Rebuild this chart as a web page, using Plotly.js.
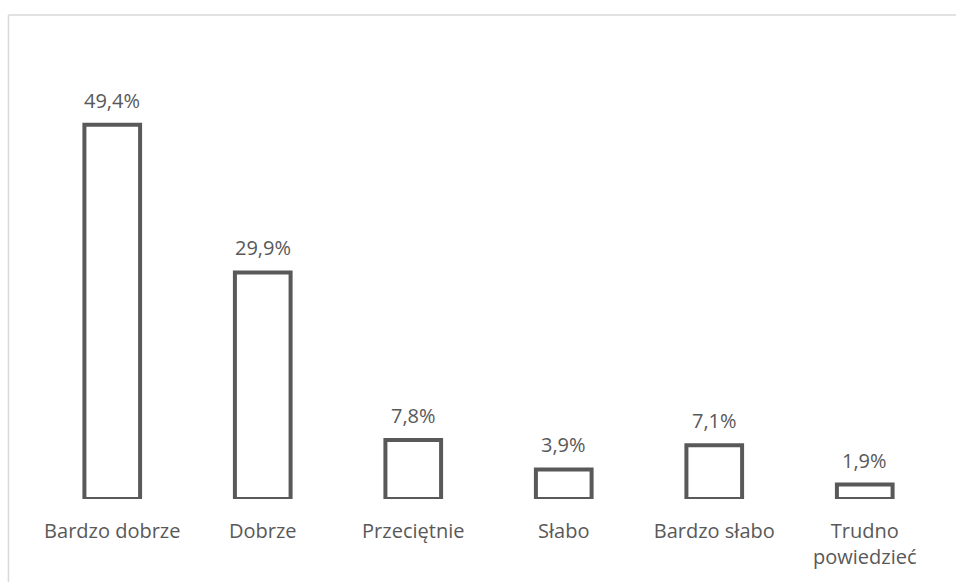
<!DOCTYPE html>
<html><head><meta charset="utf-8">
<script src="https://cdn.plot.ly/plotly-3.0.1.min.js"></script>
<style>html,body{margin:0;padding:0;background:#fff}#c{width:956px;height:582px}</style>
</head><body><div id="c"></div>
<script>
const categories = ["Bardzo dobrze", "Dobrze", "Przeciętnie", "Słabo", "Bardzo słabo", "Trudno<br>powiedzieć"];
const values = [49.4, 29.9, 7.8, 3.9, 7.1, 1.9];
const labels = values.map(v => v.toFixed(1).replace('.', ',') + '%');

const trace = {
  type: 'bar', x: categories, y: values,
  marker: {color: '#ffffff', line: {color: '#595959', width: 4}},
  width: 0.37, hoverinfo: 'none'
};
const annotations = categories.map((c, i) => ({
  x: c, y: values[i], xref: 'x', yref: 'y', text: labels[i], showarrow: false,
  yanchor: 'bottom', yshift: 9,
  font: {family: 'Open Sans', size: 20, color: '#595959'}
}));
const layout = {
  width: 956, height: 582,
  margin: {l: 37, r: 16, t: 80, b: 83},
  paper_bgcolor: '#fff', plot_bgcolor: '#fff',
  showlegend: false,
  xaxis: {showline: false, showgrid: false, zeroline: false, ticks: 'outside', ticklen: 14, tickcolor: 'rgba(0,0,0,0)',
          tickfont: {family: 'Open Sans', size: 20, color: '#595959'}},
  yaxis: {range: [0, 55.3], visible: false, showgrid: false, zeroline: false},
  annotations: annotations,
  shapes: [
    {type: 'line', xref: 'paper', yref: 'paper', x0: -0.0316, x1: 1.02, y0: 1.155, y1: 1.155, line: {color: '#d9d9d9', width: 1.5}},
    {type: 'line', xref: 'paper', yref: 'paper', x0: -0.0316, x1: -0.0316, y0: 1.155, y1: -0.2, line: {color: '#d9d9d9', width: 1.5}}
  ]
};
Plotly.newPlot('c', [trace], layout, {staticPlot: true});
</script></body></html>
